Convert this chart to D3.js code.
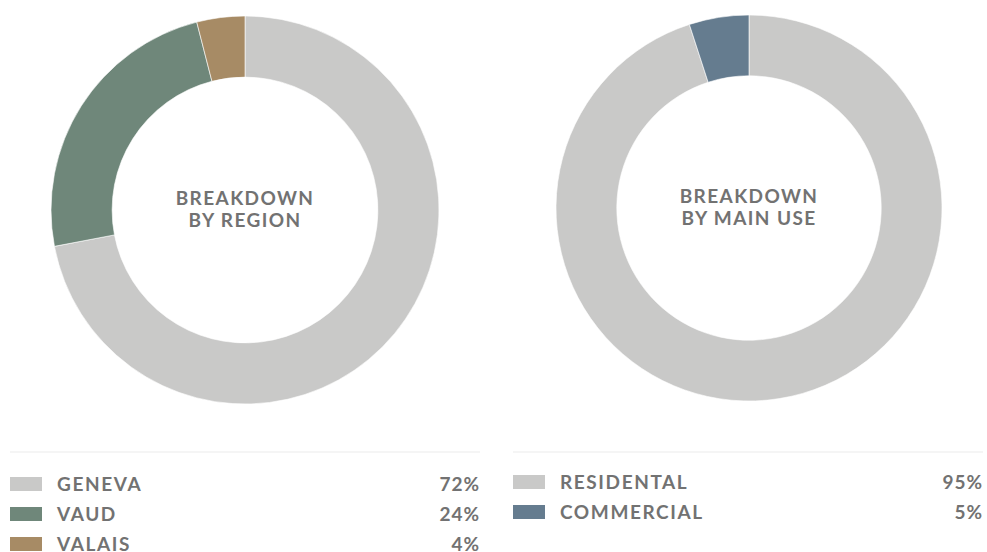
<!DOCTYPE html>
<head>
    <meta charset="utf-8">
    <title>Breakdown donuts</title>
    <style>
        body { margin: 0; background: #fff; }
        text { font-family: Lato, "Open Sans", sans-serif; fill: #727272; }
    </style>
</head>
<body>

<svg width="987" height="552"></svg>

<script src="https://d3js.org/d3.v7.min.js"></script>
<script>
    // data
    var regionNames = ["GENEVA", "VAUD", "VALAIS"];
    var regionValues = [72, 24, 4];
    var regionColors = ["#c9c9c8", "#6f877a", "#a78b65"];

    var useNames = ["RESIDENTAL", "COMMERCIAL"];
    var useValues = [95, 5];
    var useColors = ["#c9c9c8", "#657c8f"];

    var svg = d3.select("svg");

    // one donut + legend block
    function donut(opt) {
        var names = opt.names, values = opt.values, colors = opt.colors;
        var data = names.map(function(n, i) { return { name: n, value: values[i], color: colors[i] }; });

        var pie = d3.pie().sort(null).value(function(d) { return d.value; });
        var arc = d3.arc().innerRadius(opt.r * 0.685).outerRadius(opt.r);

        var g = svg.append("g")
            .attr("transform", "translate(" + opt.cx + "," + opt.cy + ")");

        g.selectAll("path")
            .data(pie(data))
            .enter().append("path")
                .attr("d", arc)
                .attr("fill", function(d) { return d.data.color; })
                .attr("stroke", "#fff")
                .attr("stroke-width", 0.6);

        // title in the hole
        var t = g.append("text")
            .attr("text-anchor", "middle")
            .attr("font-size", 19)
            .attr("font-weight", 700)
            .attr("letter-spacing", 1.4);
        opt.title.forEach(function(line, i) {
            t.append("tspan")
                .attr("x", 0)
                .attr("y", -5 + i * 22)
                .text(line);
        });

        // legend
        var lg = svg.append("g");
        lg.append("line")
            .attr("x1", opt.x0).attr("x2", opt.x1)
            .attr("y1", opt.lineY).attr("y2", opt.lineY)
            .attr("stroke", "#ececec")
            .attr("stroke-width", 1.2);

        var y = d3.scalePoint()
            .domain(names)
            .range([opt.rowY, opt.rowY + 30 * (names.length - 1)]);

        var row = lg.selectAll("g.row")
            .data(data)
            .enter().append("g")
                .attr("class", "row")
                .attr("transform", function(d) { return "translate(0," + y(d.name) + ")"; });

        row.append("rect")
            .attr("x", opt.x0)
            .attr("y", -7)
            .attr("width", 32)
            .attr("height", 14)
            .attr("fill", function(d) { return d.color; });

        row.append("text")
            .attr("x", opt.x0 + 47)
            .attr("y", 7)
            .attr("font-size", 19)
            .attr("font-weight", 700)
            .attr("letter-spacing", 1.6)
            .text(function(d) { return d.name; });

        row.append("text")
            .attr("x", opt.x1)
            .attr("y", 7)
            .attr("text-anchor", "end")
            .attr("font-size", 19)
            .attr("font-weight", 700)
            .attr("letter-spacing", 1.0)
            .text(function(d) { return d.value + "%"; });
    }

    donut({
        names: regionNames, values: regionValues, colors: regionColors,
        title: ["BREAKDOWN", "BY REGION"],
        cx: 245, cy: 210, r: 194,
        x0: 10, x1: 480, lineY: 452, rowY: 484
    });

    donut({
        names: useNames, values: useValues, colors: useColors,
        title: ["BREAKDOWN", "BY MAIN USE"],
        cx: 749, cy: 208, r: 193,
        x0: 513, x1: 983, lineY: 452, rowY: 482
    });
</script>

</body>
